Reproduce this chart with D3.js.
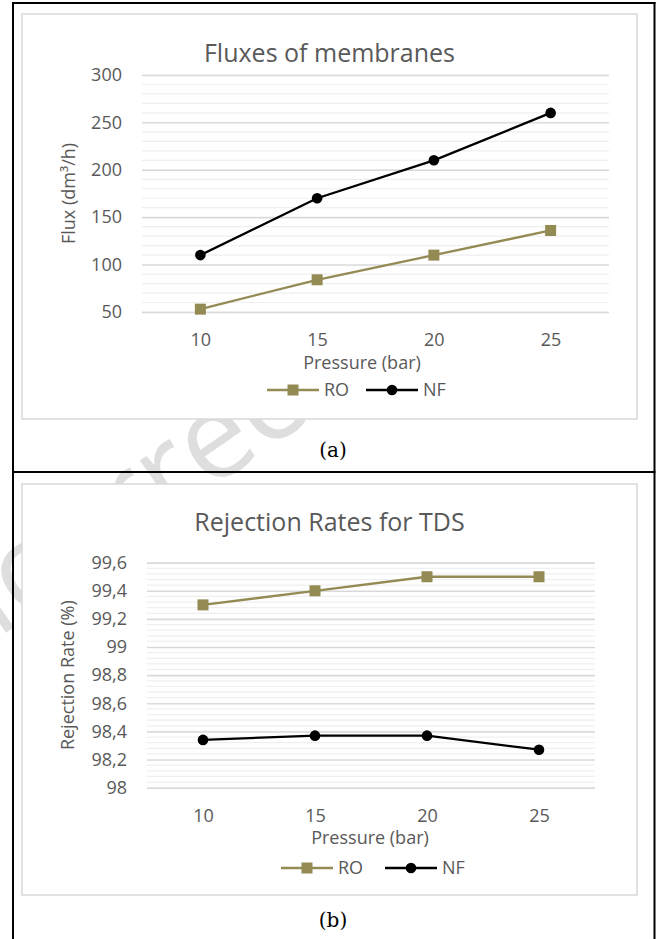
<!DOCTYPE html>
<html>
<head>
<meta charset="utf-8">
<script src="https://cdn.jsdelivr.net/npm/d3@7"></script>
<style>
  html, body { margin: 0; padding: 0; background: #fff; }
  svg { display: block; }
  text { font-family: "Open Sans", "Noto Sans", sans-serif; }
</style>
</head>
<body>
<svg id="chart" width="660" height="939"></svg>
<script>
// ---------------- data ----------------
const pressures = ["10", "15", "20", "25"];
const fluxRO = [53, 84, 110, 136];
const fluxNF = [110, 170, 210, 260];
const rejRO = [99.3, 99.4, 99.5, 99.5];
const rejNF = [98.34, 98.37, 98.37, 98.27];
const fluxTicks = [50, 100, 150, 200, 250, 300];
const rejTicks = [98, 98.2, 98.4, 98.6, 98.8, 99, 99.2, 99.4, 99.6];
const seriesNames = ["RO", "NF"];
const titles = ["Fluxes of membranes", "Rejection Rates for TDS"];
const yTitles = ["Flux (dm\u00b3/h)", "Rejection Rate (%)"];
const xTitle = "Pressure (bar)";
const captions = ["(a)", "(b)"];

const colRO = "#948a54", colNF = "#000000", txt = "#595959";
const svg = d3.select("#chart");

// watermark (behind everything)
svg.append("text")
  .attr("transform", "translate(-110,714) rotate(-35)")
  .attr("font-size", 120)
  .attr("fill", "#dedede")
  .text("Uncorrected");

const commaFmt = v => String(+v.toFixed(2)).replace(".", ",");

function drawChart(cfg) {
  const g = svg.append("g");
  // frame
  g.append("rect").attr("x", cfg.fx0).attr("y", cfg.fy0)
    .attr("width", cfg.fx1 - cfg.fx0).attr("height", cfg.fy1 - cfg.fy0)
    .attr("fill", "#fff").attr("stroke", "#d9d9d9").attr("stroke-width", 1.5);

  const x = d3.scalePoint().domain(pressures).range([cfg.px0, cfg.px1]).padding(0.5);
  const y = d3.scaleLinear().domain(cfg.domain).range([cfg.py1, cfg.py0]);

  // minor gridlines
  const minor = d3.range(cfg.domain[0], cfg.domain[1] + cfg.minorStep / 2, cfg.minorStep);
  g.append("g").selectAll("line").data(minor).join("line")
    .attr("x1", cfg.px0).attr("x2", cfg.px1)
    .attr("y1", d => y(d)).attr("y2", d => y(d))
    .attr("stroke", "#efefef").attr("stroke-width", 1.2);

  // major gridlines via axis
  const yAxis = d3.axisLeft(y).tickValues(cfg.ticks)
    .tickSize(-(cfg.px1 - cfg.px0)).tickPadding(cfg.px0 - cfg.labelRight)
    .tickFormat(cfg.fmt);
  const ya = g.append("g").attr("transform", `translate(${cfg.px0},0)`).call(yAxis);
  ya.select(".domain").remove();
  ya.selectAll(".tick line").attr("stroke", "#d9d9d9").attr("stroke-width", 1.4);
  ya.selectAll(".tick text").attr("fill", txt).attr("font-size", 18)
    .attr("font-family", "Open Sans");

  const xAxis = d3.axisBottom(x).tickSize(0).tickPadding(0);
  const xa = g.append("g").attr("transform", `translate(0,${cfg.xLabelY})`).call(xAxis);
  xa.select(".domain").remove();
  xa.selectAll(".tick text").attr("fill", txt).attr("font-size", 18)
    .attr("font-family", "Open Sans").attr("dy", "0.35em");

  // title
  g.append("text").attr("x", (cfg.fx0 + cfg.fx1) / 2).attr("y", cfg.titleY)
    .attr("text-anchor", "middle").attr("font-size", 25).attr("fill", txt)
    .text(cfg.title);
  // axis titles
  g.append("text").attr("x", cfg.xTitleX).attr("y", cfg.xTitleY)
    .attr("text-anchor", "middle").attr("font-size", 18).attr("fill", txt)
    .text(xTitle);
  g.append("text")
    .attr("transform", `translate(${cfg.yTitleX},${(cfg.py0 + cfg.py1) / 2}) rotate(-90)`)
    .attr("text-anchor", "middle").attr("dy", "0.35em")
    .attr("font-size", 18).attr("fill", txt).text(cfg.yTitle);

  // series
  const series = [
    { name: seriesNames[0], vals: cfg.ro, col: colRO, shape: "sq" },
    { name: seriesNames[1], vals: cfg.nf, col: colNF, shape: "ci" }
  ];
  const line = d3.line().x((d, i) => x(pressures[i])).y(d => y(d));
  series.forEach(s => {
    g.append("path").attr("d", line(s.vals)).attr("fill", "none")
      .attr("stroke", s.col).attr("stroke-width", 2.3);
    drawMarkers(g, s, s.vals.map((v, i) => [x(pressures[i]), y(v)]));
  });

  // legend
  series.forEach((s, i) => {
    const lx0 = cfg.legX[i], lx1 = lx0 + 52;
    g.append("line").attr("x1", lx0).attr("x2", lx1)
      .attr("y1", cfg.legY).attr("y2", cfg.legY)
      .attr("stroke", s.col).attr("stroke-width", 2.3);
    drawMarkers(g, s, [[(lx0 + lx1) / 2, cfg.legY]]);
    g.append("text").attr("x", lx1 + 5).attr("y", cfg.legY).attr("dy", "0.35em")
      .attr("font-size", 18).attr("fill", txt).text(s.name);
  });

  // caption
  svg.append("text").attr("x", 333).attr("y", cfg.capY)
    .attr("text-anchor", "middle").attr("font-size", 20)
    .attr("fill", "#000")
    .style("font-family", "'DejaVu Serif', serif")
    .text(cfg.caption);
}

function drawMarkers(g, s, pts) {
  if (s.shape === "sq") {
    g.selectAll(null).data(pts).join("rect")
      .attr("x", d => d[0] - 5.5).attr("y", d => d[1] - 5.5)
      .attr("width", 11).attr("height", 11).attr("fill", s.col);
  } else {
    g.selectAll(null).data(pts).join("circle")
      .attr("cx", d => d[0]).attr("cy", d => d[1]).attr("r", 5.3).attr("fill", s.col);
  }
}

drawChart({
  fx0: 22, fx1: 637, fy0: 14, fy1: 419,
  px0: 142, px1: 609, py0: 75, py1: 312,
  domain: [50, 300], ticks: fluxTicks, minorStep: 10, fmt: d3.format("d"),
  labelRight: 122, xLabelY: 340, titleY: 62, title: titles[0],
  xTitleX: 362, xTitleY: 369, yTitleX: 69, yTitle: yTitles[0],
  ro: fluxRO, nf: fluxNF, legX: [267, 366], legY: 390,
  caption: captions[0], capY: 457
});
drawChart({
  fx0: 22, fx1: 637, fy0: 484, fy1: 895,
  px0: 147, px1: 595, py0: 562.7, py1: 787.7,
  domain: [98, 99.6], ticks: rejTicks, minorStep: 0.04, fmt: commaFmt,
  labelRight: 127, xLabelY: 816, titleY: 531, title: titles[1],
  xTitleX: 370, xTitleY: 844, yTitleX: 68, yTitle: yTitles[1],
  ro: rejRO, nf: rejNF, legX: [281, 385], legY: 868,
  caption: captions[1], capY: 927
});

// table borders
const border = svg.append("g").attr("stroke", "#000").attr("stroke-width", 2);
border.append("line").attr("x1", 13).attr("x2", 13).attr("y1", 2).attr("y2", 939);
border.append("line").attr("x1", 654.5).attr("x2", 654.5).attr("y1", 2).attr("y2", 939);
border.append("line").attr("x1", 12).attr("x2", 655.5).attr("y1", 3).attr("y2", 3);
border.append("line").attr("x1", 12).attr("x2", 655.5).attr("y1", 472).attr("y2", 472);
</script>
</body>
</html>
